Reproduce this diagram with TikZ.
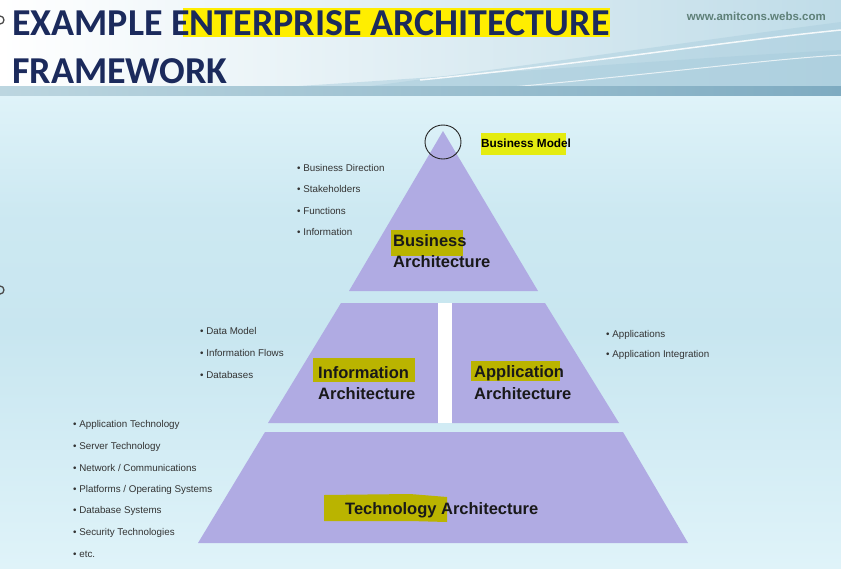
\documentclass[tikz,border=0pt]{standalone}
\usepackage{fontspec}
\setmainfont{Liberation Sans}
\newfontfamily\titlefont{Carlito}
\usetikzlibrary{calc}
\definecolor{navy}{HTML}{1B2A5C}
\definecolor{lav}{HTML}{B0ABE3}
\definecolor{hiyel}{HTML}{FFEE00}
\definecolor{hibm}{HTML}{E4EC10}
\definecolor{olive}{HTML}{BAB400}
\definecolor{bodya}{HTML}{DFF3F9}
\definecolor{bodyb}{HTML}{C8E6F0}
\definecolor{urlc}{HTML}{5E8078}
\definecolor{hdrr}{HTML}{BFDCE8}
\definecolor{swa}{HTML}{A9CDDD}
\definecolor{bandl}{HTML}{BCD6E0}
\definecolor{bandr}{HTML}{7EABC1}
\tikzset{
  x=1pt,y=-1pt,
  layer/.style={fill=lav,draw=none},
  bul/.style={anchor=west,inner sep=0pt,font=\fontsize{9.8}{11}\selectfont,text=black!80},
  lbl/.style={anchor=west,inner sep=0pt,font=\fontsize{16.5}{18}\selectfont\bfseries,text=black!90},
  ttl/.style={anchor=base west,inner sep=0pt,font=\titlefont\fontsize{38}{40}\selectfont\bfseries,text=navy},
}
\begin{document}
\begin{tikzpicture}
\useasboundingbox (0,0) rectangle (841,568);
% body background
\shade[top color=bodya,bottom color=bodyb,middle color=bodyb!80!bodya] (0,95) rectangle (841,330);
\shade[top color=bodyb,bottom color=bodya] (0,330) rectangle (841,568);
% header
\shade[left color=white,right color=hdrr] (0,0) rectangle (841,95);
\fill[swa,opacity=0.45] (300,95) .. controls (500,70) and (700,40) .. (841,22) -- (841,95) -- cycle;
\fill[swa,opacity=0.5] (150,95) .. controls (450,78) and (650,60) .. (841,50) -- (841,95) -- cycle;
\draw[white,line width=1.5pt,opacity=0.85] (420,80) .. controls (600,62) and (720,42) .. (841,30);
\draw[white,line width=1pt,opacity=0.7] (500,88) .. controls (650,75) and (760,60) .. (841,55);
\shade[left color=bandl, right color=bandr] (0,86) rectangle (841,95);
% title
\fill[hiyel] (183,8) rectangle (610,37);
\node[ttl] (t1) at (12,35) {EXAMPLE ENTERPRISE ARCHITECTURE};
\node[ttl] (t2) at (12,83) {FRAMEWORK};
\node[anchor=east,inner sep=0pt,font=\fontsize{11.5}{12}\selectfont\bfseries,text=urlc] (url) at (826,16) {www.amitcons.webs.com};
% edge marks
\draw[black!70,line width=1.3pt] (0,20) circle[radius=4];
\draw[black!70,line width=1.3pt] (0,290) circle[radius=4];
% pyramid
\path[layer] (443,131) -- (538,291) -- (349,291) -- cycle;
\path[layer] (341,303) -- (438,303) -- (438,423) -- (268,423) -- cycle;
\path[layer] (452,303) -- (545,303) -- (619,423) -- (452,423) -- cycle;
\path[layer] (265,432) -- (623,432) -- (688,543) -- (198,543) -- cycle;
\fill[white] (438,303) rectangle (452,423);
% apex circle
\draw[black!85,line width=0.9pt] (443,142) circle[x radius=18,y radius=17];
% highlights
\fill[hibm] (481,133) rectangle (566,155);
\fill[olive] (391,230) rectangle (463,256);
\fill[olive] (313,358) rectangle (415,382);
\fill[olive] (471,361) rectangle (560,381);
\fill[olive] (324,495) -- (410,494) -- (447,497) -- (447,522) -- (410,521) -- (324,521) -- cycle;
% labels
\node[anchor=west,inner sep=0pt,font=\fontsize{11.8}{13}\selectfont\bfseries] (bm) at (481,143) {Business Model};
\node[lbl] (ba1) at (393,241) {Business};
\node[lbl] (ba2) at (393,262) {Architecture};
\node[lbl] (ia1) at (318,373) {Information};
\node[lbl] (ia2) at (318,394) {Architecture};
\node[lbl] (aa1) at (474,373) {Application};
\node[lbl] (aa2) at (474,394) {Architecture};
\node[lbl] (ta) at (345,510) {Technology Architecture};
% bullets
\node[bul] (b1) at (297,168) {\textbullet\ Business Direction};
\node[bul] (b2) at (297,189) {\textbullet\ Stakeholders};
\node[bul] (b3) at (297,211) {\textbullet\ Functions};
\node[bul] (b4) at (297,232) {\textbullet\ Information};
\node[bul] (i1) at (200,331) {\textbullet\ Data Model};
\node[bul] (i2) at (200,353) {\textbullet\ Information Flows};
\node[bul] (i3) at (200,375) {\textbullet\ Databases};
\node[bul] (a1) at (606,335) {\textbullet\ Applications};
\node[bul] (a2) at (606,355) {\textbullet\ Application Integration};
\node[bul] (c1) at (73,425) {\textbullet\ Application Technology};
\node[bul] (c2) at (73,447) {\textbullet\ Server Technology};
\node[bul] (c3) at (73,468) {\textbullet\ Network / Communications};
\node[bul] (c4) at (73,490) {\textbullet\ Platforms / Operating Systems};
\node[bul] (c5) at (73,511) {\textbullet\ Database Systems};
\node[bul] (c6) at (73,533) {\textbullet\ Security Technologies};
\node[bul] (c7) at (73,554) {\textbullet\ etc.};
\end{tikzpicture}
\end{document}
